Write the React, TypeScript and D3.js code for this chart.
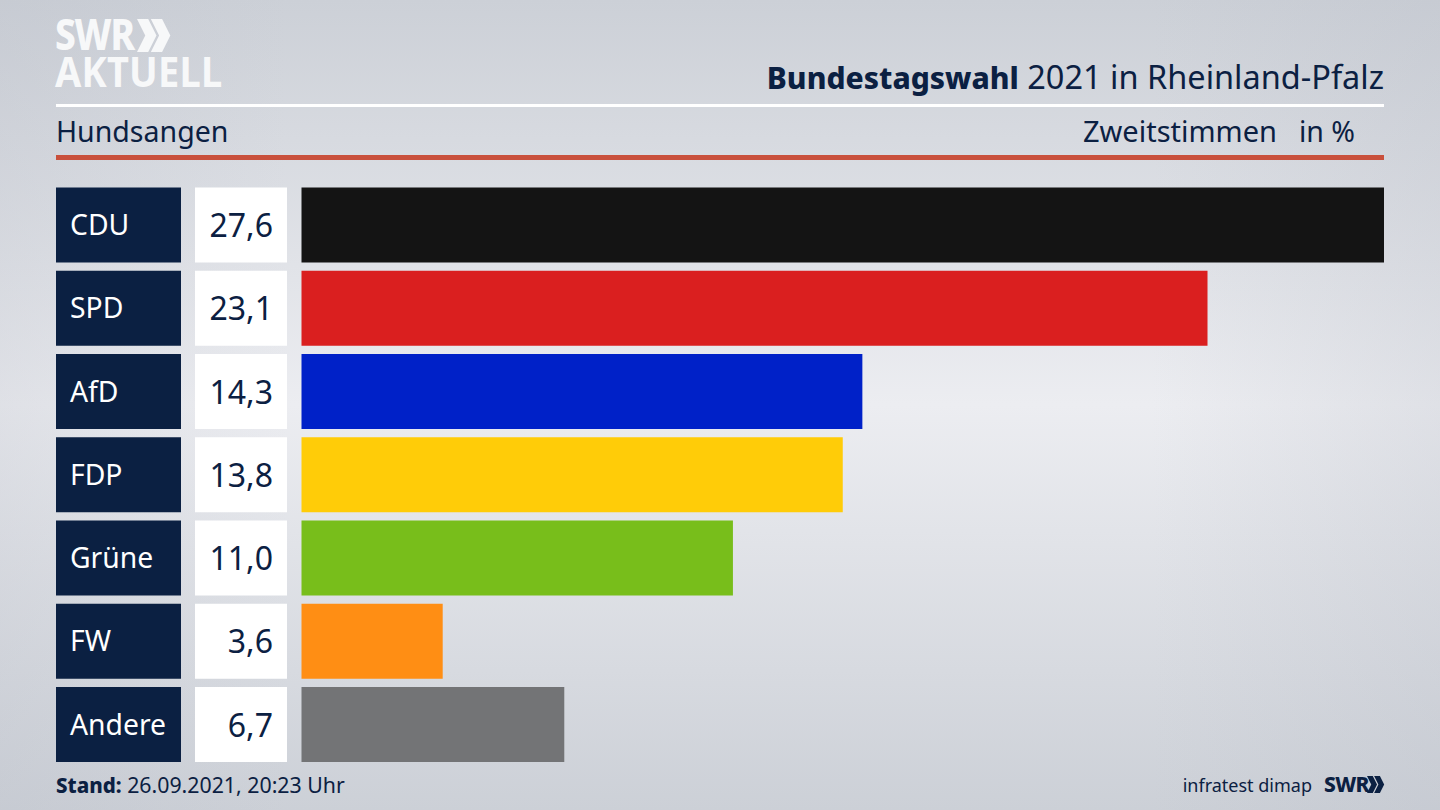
import React from 'react';
import * as d3 from 'd3';

const parties = ['CDU', 'SPD', 'AfD', 'FDP', 'Grüne', 'FW', 'Andere'];
const values = [27.6, 23.1, 14.3, 13.8, 11.0, 3.6, 6.7];
const partyColors = ['#141414', '#da1f1f', '#0021c8', '#ffcc08', '#78be1b', '#ff8e14', '#737476'];

const width = 1440;
const height = 810;
const font = '"Noto Sans", sans-serif';
const navy = '#0b2042';

const formatValue = (v: number) => v.toFixed(1).replace('.', ',');

// two chevrons of the SWR logo, x/y is the top left corner
const chevrons = (x: number, y: number, h: number) => {
  const w = h * 0.25;
  const t = h * 0.34;
  const one = (x0: number) =>
    `M${x0},${y}L${x0 + t},${y}L${x0 + t + w},${y + h / 2}L${x0 + t},${y + h}L${x0},${y + h}L${x0 + w},${y + h / 2}Z`;
  return one(x) + one(x + h * 0.42);
};

const App: React.FC = () => {
  const x = d3.scaleLinear().domain([0, 27.6]).range([301.5, 1384]);
  const y = d3
    .scaleBand<string>()
    .domain(parties)
    .range([187.5, 762])
    .paddingInner(0.0991);

  return (
    <svg
      width={width}
      height={height}
      viewBox={`0 0 ${width} ${height}`}
      style={{ position: 'absolute', left: 0, top: 0, fontFamily: font }}
    >
      <defs>
        <linearGradient id="bg" x1="0" y1="0" x2="0" y2="1">
          <stop offset="0" stopColor="#ccd0d7" />
          <stop offset="0.5" stopColor="#ecedf1" />
          <stop offset="1" stopColor="#ccd0d7" />
        </linearGradient>
        <linearGradient id="edges" x1="0" y1="0" x2="1" y2="0">
          <stop offset="0" stopColor="#b8bcc6" stopOpacity={0.25} />
          <stop offset="0.2" stopColor="#b8bcc6" stopOpacity={0} />
          <stop offset="0.8" stopColor="#b8bcc6" stopOpacity={0} />
          <stop offset="1" stopColor="#b8bcc6" stopOpacity={0.25} />
        </linearGradient>
      </defs>
      <rect width={width} height={height} fill="url(#bg)" />
      <rect width={width} height={height} fill="url(#edges)" />

      {/* logo */}
      <g fill="#f7f8f9">
        <text transform="translate(55,50) scale(1,1.14)" fontSize={37} fontWeight={800} letterSpacing={-1.2}>SWR</text>
        <path d={chevrons(137, 19, 33)} />
        <text transform="translate(55,87) scale(1,1.1)" fontSize={38} fontWeight={700} letterSpacing={0.2}>AKTUELL</text>
      </g>

      {/* header */}
      <text x={1384} y={89} textAnchor="end" fontSize={32.5} fill={navy}>
        <tspan fontSize={30} fontWeight={800}>Bundestagswahl</tspan> 2021 in Rheinland-Pfalz
      </text>
      <rect x={56} y={104} width={1328} height={3} fill="#ffffff" />
      <text x={56} y={142} fontSize={28.5} fill={navy}>Hundsangen</text>
      <text x={1277} y={142} textAnchor="end" fontSize={29} fill={navy}>Zweitstimmen</text>
      <text x={1355} y={142} textAnchor="end" fontSize={28.5} fill={navy}>in %</text>
      <rect x={56} y={155} width={1328} height={5} fill="#c9503c" />

      {/* rows */}
      {parties.map((p, i) => {
        const top = y(p) as number;
        const bh = y.bandwidth();
        return (
          <g key={p}>
            <rect x={56} y={top} width={125} height={bh} fill={navy} />
            <text x={70} y={top + bh / 2 + 10} fontSize={28.3} fill="#ffffff">{p}</text>
            <rect x={195} y={top} width={92} height={bh} fill="#ffffff" />
            <text x={273} y={top + bh / 2 + 12} textAnchor="end" fontSize={32} fill={navy}>
              {formatValue(values[i])}
            </text>
            <rect x={x(0)} y={top} width={x(values[i]) - x(0)} height={bh} fill={partyColors[i]} />
          </g>
        );
      })}

      {/* footer */}
      <text x={56} y={793} fontSize={21.3} fill={navy}>
        <tspan fontSize={20.5} fontWeight={800}>Stand:</tspan> 26.09.2021, 20:23 Uhr
      </text>
      <text x={1312} y={792} textAnchor="end" fontSize={18} fill={navy}>infratest dimap</text>
      <g fill={navy}>
        <text x={1324} y={792} fontSize={21} fontWeight={800} letterSpacing={-0.6}>SWR</text>
        <path d={chevrons(1367, 776, 17)} />
      </g>
    </svg>
  );
};

export default App;
